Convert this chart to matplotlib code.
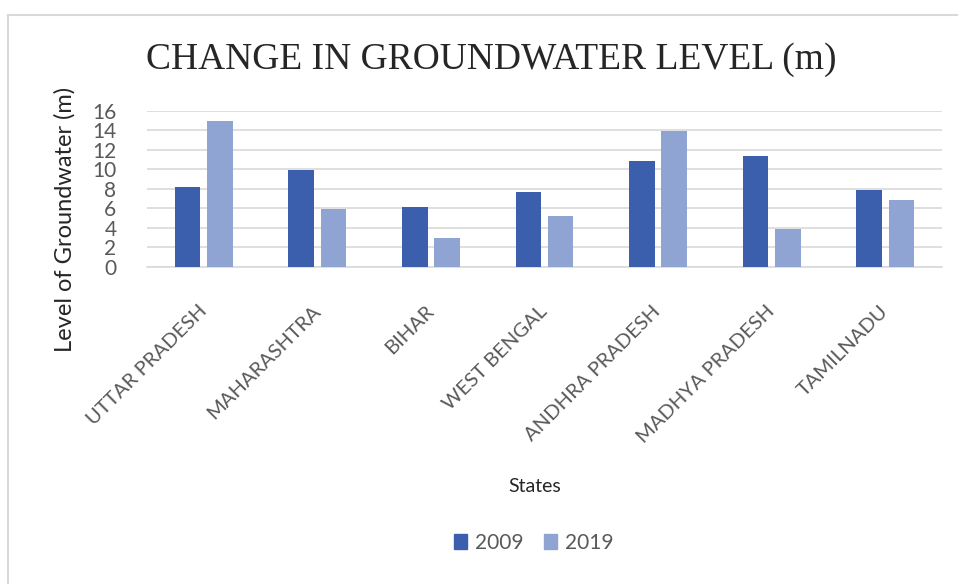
import matplotlib
matplotlib.use("Agg")
import matplotlib.pyplot as plt
import numpy as np
from matplotlib.lines import Line2D
from matplotlib.patches import Patch

states = ["UTTAR PRADESH", "MAHARASHTRA", "BIHAR", "WEST BENGAL",
          "ANDHRA PRADESH", "MADHYA PRADESH", "TAMILNADU"]
years = ["2009", "2019"]
level_2009 = [8.2, 9.9, 6.1, 7.7, 10.9, 11.4, 7.9]
level_2019 = [15.0, 5.9, 3.0, 5.2, 13.9, 3.9, 6.9]
yticks = [0, 2, 4, 6, 8, 10, 12, 14, 16]

c2009 = "#3B5EAD"
c2019 = "#8FA4D3"
grey = "#595959"

fig = plt.figure(figsize=(9.58, 5.84), dpi=100)
ax = fig.add_axes([147/958, 1-266.7/584, (942-147)/958, (266.7-111)/584])

x = np.arange(len(states))
w = 0.225
off = 0.142
ax.bar(x - off, level_2009, w, color=c2009, zorder=3)
ax.bar(x + off, level_2019, w, color=c2019, zorder=3)

ax.set_xlim(-0.5, len(states) - 0.5)
ax.set_ylim(0, 16)
ax.set_yticks(yticks)
ax.set_yticklabels([str(t) for t in yticks], fontsize=15, color=grey, family="Lato")
ax.yaxis.grid(True, color="#D9D9D9", linewidth=1.2, zorder=0)
for s in ["top", "right", "left"]:
    ax.spines[s].set_visible(False)
ax.spines["bottom"].set_color("#D9D9D9")
ax.spines["bottom"].set_linewidth(1.2)
ax.tick_params(axis="y", length=0, pad=22)
ax.tick_params(axis="x", length=0, pad=30)
ax.set_xticks(x)
ax.set_xticklabels(states, rotation=45, ha="right", va="center",
                   rotation_mode="anchor", fontsize=14.5, color=grey, family="Lato")

fig.text(491/958, 1-60/584, "CHANGE IN GROUNDWATER LEVEL (m)", ha="center", va="center",
         fontsize=27, family="Liberation Serif", color="#262626")
fig.text(65/958, 1-219/584, "Level of Groundwater (m)", rotation=90, ha="center",
         va="center", fontsize=17, family="Lato", color="#262626")
fig.text(535/958, 1-486/584, "States", ha="center", va="center", fontsize=14,
         family="Lato", color="#262626")

handles = [Patch(color=c2009, label=years[0]), Patch(color=c2019, label=years[1])]
fig.legend(handles=handles, loc="center", bbox_to_anchor=(534/958, 1-543/584), ncol=2,
           frameon=False, prop={"family": "Lato", "size": 15}, labelcolor=grey,
           handlelength=0.6, handleheight=0.7, handletextpad=0.4, columnspacing=1.0)

fig.add_artist(Line2D([8/958, 1], [1-15/584, 1-15/584], color="#D9D9D9", linewidth=1.5,
                      transform=fig.transFigure))
fig.add_artist(Line2D([8/958, 8/958], [0, 1-15/584], color="#D9D9D9", linewidth=1.5,
                      transform=fig.transFigure))

fig.savefig("out.png", dpi=100)
